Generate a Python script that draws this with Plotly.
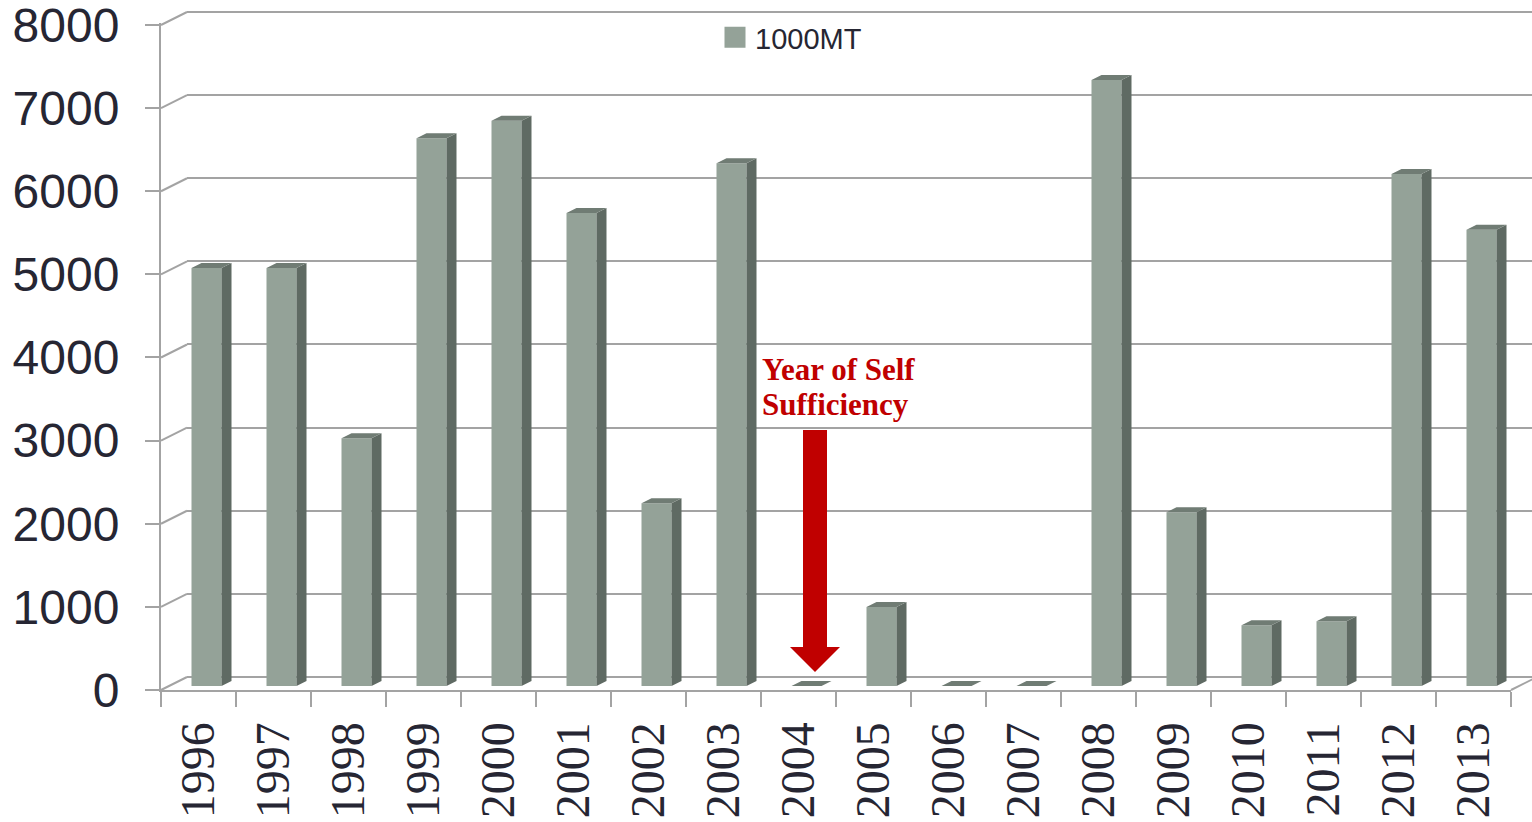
import plotly.graph_objects as go

years = ["1996", "1997", "1998", "1999", "2000", "2001", "2002", "2003", "2004",
         "2005", "2006", "2007", "2008", "2009", "2010", "2011", "2012", "2013"]
values = [5030, 5030, 2980, 6590, 6800, 5690, 2200, 6290, 0,
          950, 0, 0, 7290, 2090, 730, 780, 6160, 5490]
y_ticks = [0, 1000, 2000, 3000, 4000, 5000, 6000, 7000, 8000]
series_name = "1000MT"
note_lines = ["Year of Self", "Sufficiency"]
note_year = "2004"

# ---- geometry (pixels) ----
W, H = 1532, 822
ML, MR, MT, MB = 161, 0, 0, 132
PW, PH = W - ML - MR, H - MT - MB
FLOOR_PX = 690              # pixel row of the front floor (value 0)
PX_X = 75.0                 # pixels per category
PX_Y = 665.0 / 8000.0       # pixels per unit
DEPTH_X, DEPTH_Y = 26, 13   # back-wall offset in px
front_w = len(years) * PX_X
PAD = 30                    # headroom (data units) so end ticks/grids are kept

FRONT_C = "#94a298"
SIDE_C = "#5f6a63"
TOP_C = "#707c74"
GRID_C = "#a3a3a3"
TEXT_C = "#262633"


def ydom(px):
    return (MT + PH - px) / PH


def xdom(px):
    return (px - ML) / PW


# data-unit offsets
dxw = DEPTH_X / PX_X
dyw = DEPTH_Y / PX_Y
bar_w = 30 / PX_X
bar_shift = 8 / PX_X
bar_base = 4 / PX_Y
side_dx = 10 / PX_X
side_dy = 5 / PX_Y

idx = list(range(len(years)))

fig = go.Figure()

# back wall subplot (x, y): gridlines only
fig.add_trace(go.Scatter(x=[None], y=[None], xaxis="x", yaxis="y",
                         showlegend=False, hoverinfo="skip"))

# front bars (x2, y2)
xc = [i + bar_shift for i in idx]
fig.add_trace(go.Bar(x=xc, y=values, base=[bar_base] * len(values), width=bar_w,
                     marker=dict(color=FRONT_C, line=dict(width=0)),
                     xaxis="x2", yaxis="y2", showlegend=False, name=series_name))

sx, sy, tx, ty = [], [], [], []
for i, v in zip(idx, values):
    xl = i + bar_shift - bar_w / 2
    xr = i + bar_shift + bar_w / 2
    b = bar_base
    sx += [xr, xr + side_dx, xr + side_dx, xr, xr, None]
    sy += [b, b + side_dy, b + v + side_dy, b + v, b, None]
    tx += [xl, xr, xr + side_dx, xl + side_dx, xl, None]
    ty += [b + v, b + v, b + v + side_dy, b + v + side_dy, b + v, None]

fig.add_trace(go.Scatter(x=sx, y=sy, fill="toself", fillcolor=SIDE_C, mode="lines",
                         line=dict(width=0, color=SIDE_C), xaxis="x2", yaxis="y2",
                         showlegend=False, hoverinfo="skip"))
fig.add_trace(go.Scatter(x=tx, y=ty, fill="toself", fillcolor=TOP_C, mode="lines",
                         line=dict(width=0, color=TOP_C), xaxis="x2", yaxis="y2",
                         showlegend=False, hoverinfo="skip"))

# legend entry
fig.add_trace(go.Scatter(x=[None], y=[None], mode="markers", name=series_name,
                         marker=dict(symbol="square", size=16, color=FRONT_C,
                                     line=dict(width=5, color=FRONT_C)),
                         xaxis="x2", yaxis="y2"))

shapes = []
# left diagonal connectors from the front axis to the back wall (paper coords)
for t in y_ticks:
    py = FLOOR_PX - t * PX_Y
    shapes.append(dict(type="line", xref="paper", yref="paper",
                       x0=xdom(ML), y0=ydom(py), x1=xdom(ML + DEPTH_X), y1=ydom(py - DEPTH_Y),
                       line=dict(color=GRID_C, width=2), layer="below"))
# right floor connector
right_px = ML + front_w
shapes.append(dict(type="line", xref="paper", yref="paper",
                   x0=xdom(right_px), y0=ydom(FLOOR_PX),
                   x1=xdom(right_px + DEPTH_X), y1=ydom(FLOOR_PX - DEPTH_Y),
                   line=dict(color=GRID_C, width=2), layer="below"))

# red arrow pointing at the year of self sufficiency
ai = years.index(note_year)
ax_c = ai + 0.22
shaft_half = 12 / PX_X
head_half = 25 / PX_X
shaft_top = 3128
head_start = 517
tip = 217
shapes.append(dict(type="rect", xref="x2", yref="y2",
                   x0=ax_c - shaft_half, x1=ax_c + shaft_half, y0=head_start, y1=shaft_top,
                   fillcolor="#c00000", line=dict(width=0), layer="above"))
shapes.append(dict(type="path", xref="x2", yref="y2",
                   path=f"M {ax_c - head_half} {head_start} L {ax_c + head_half} {head_start} "
                        f"L {ax_c} {tip} Z",
                   fillcolor="#c00000", line=dict(width=0), layer="above"))

note_font = dict(family="Liberation Serif, Times New Roman", size=31, color="#c00000")
annotations = []
for k, line in enumerate(note_lines):
    annotations.append(dict(text=f"<b>{line}</b>", xref="x2", yref="y2",
                            x=ai - 0.52, y=(FLOOR_PX - (370 + 35 * k)) / PX_Y,
                            xanchor="left", yanchor="middle", align="left",
                            showarrow=False, font=note_font))

back_floor = FLOOR_PX - DEPTH_Y
back_top = back_floor - 8000 * PX_Y
front_top = FLOOR_PX - 8000 * PX_Y

fig.update_layout(
    width=W, height=H,
    margin=dict(l=ML, r=MR, t=MT, b=MB, pad=0, autoexpand=False),
    paper_bgcolor="white", plot_bgcolor="rgba(0,0,0,0)",
    shapes=shapes,
    showlegend=True,
    legend=dict(x=(715 - ML) / PW, y=ydom(12), xanchor="left", yanchor="top",
                font=dict(family="Liberation Sans, Arial", size=29, color=TEXT_C),
                bgcolor="rgba(0,0,0,0)"),
    annotations=annotations,
    # back wall
    xaxis=dict(domain=[DEPTH_X / PW, 1], range=[-0.5, -0.5 + (PW - DEPTH_X) / PX_X],
               showgrid=False, zeroline=False, showline=False, showticklabels=False,
               ticks="", fixedrange=True, automargin=False),
    yaxis=dict(domain=[ydom(back_floor + PAD * PX_Y), ydom(back_top - PAD * PX_Y)],
               range=[-PAD, 8000 + PAD],
               tickvals=y_ticks, showgrid=True, gridcolor=GRID_C, gridwidth=2,
               zeroline=False, showline=False, showticklabels=False, ticks="",
               automargin=False),
    # front
    xaxis2=dict(domain=[0, front_w / PW], range=[-0.5, len(years) - 0.5],
                tickvals=idx, ticktext=years, tickangle=-90, ticks="",
                showgrid=False, zeroline=False, showline=True, linecolor=GRID_C, linewidth=2,
                minor=dict(tickvals=[i - 0.5 for i in range(len(years) + 1)],
                           ticks="outside", ticklen=15, tickcolor=GRID_C, tickwidth=2),
                ticklabelstandoff=11, automargin=False, ticklabeloverflow="allow",
                tickfont=dict(family="Liberation Serif, Times New Roman", size=48,
                              color=TEXT_C),
                anchor="y2"),
    yaxis2=dict(domain=[ydom(FLOOR_PX), ydom(front_top - PAD * PX_Y)],
                range=[0, 8000 + PAD], tickvals=y_ticks,
                showgrid=False, zeroline=False, showline=True, linecolor=GRID_C,
                linewidth=2, ticks="outside", ticklen=14, tickcolor=GRID_C, tickwidth=2,
                ticklabelstandoff=16, automargin=False, ticklabeloverflow="allow",
                tickfont=dict(family="Liberation Sans, Arial", size=48, color=TEXT_C),
                anchor="x2"),
)

fig.write_html("out.html", config={"displayModeBar": False},
               post_script="document.body.style.margin='0px';")
